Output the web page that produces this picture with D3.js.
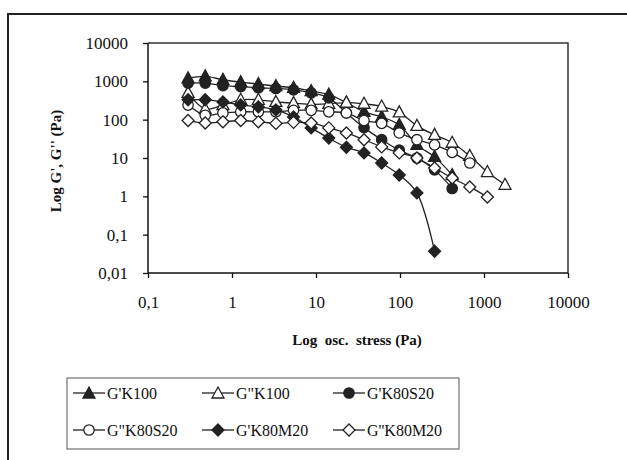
<!DOCTYPE html>
<html><head><meta charset="utf-8">
<script src="https://cdn.jsdelivr.net/npm/d3@7"></script>
<style>
html,body{margin:0;padding:0;background:#fff;}
svg{display:block;}
svg text{font-family:"Liberation Serif","Times New Roman",Times,serif !important;fill:#111;}
</style></head>
<body>
<svg id="chart" width="627" height="460"></svg>
<script>
// ---- data ----
const stress = [0.30, 0.48, 0.78, 1.27, 2.06, 3.33, 5.40, 8.76, 14.2, 23.0, 37.3, 60.5, 98.0, 159, 258, 418, 677, 1097, 1778];
const gpK100     = [1200, 1350, 1100, 950, 850, 750, 680, 560, 450, 280, 160, 118, 73, 22, 10.7, 3.6];
const gppK100    = [500, 190, 240, 330, 330, 290, 270, 250, 260, 280, 260, 220, 155, 69, 40, 25, 11.3, 4.3, 2.0];
const gpK80S20   = [900, 900, 770, 730, 680, 650, 600, 500, 370, 150, 62, 30, 16, 10, 4.9, 1.6];
const gppK80S20  = [240, 130, 150, 160, 160, 160, 175, 175, 160, 150, 95, 80, 45, 30, 22, 14, 7.4];
const gpK80M20   = [330, 330, 290, 243, 215, 180, 118, 61, 33, 19, 13.6, 7.4, 3.6, 1.23, 0.037];
const gppK80M20  = [95, 82, 88, 95, 88, 80, 85, 82, 61, 45, 30, 19.5, 13.6, 10, 5.5, 3.0, 1.76, 0.96];
const seriesNames = ["G'K100", 'G"K100', "G'K80S20", 'G"K80S20', "G'K80M20", "G''K80M20"];
const seriesValues = [gpK100, gppK100, gpK80S20, gppK80S20, gpK80M20, gppK80M20];
const seriesShapes = ["triangle", "triangle", "circle", "circle", "diamond", "diamond"];
const seriesFilled = [true, false, true, false, true, false];
const yTicks = [0.01, 0.1, 1, 10, 100, 1000, 10000];
const yTickLabels = ["0,01", "0,1", "1", "10", "100", "1000", "10000"];
const xTicks = [0.1, 1, 10, 100, 1000, 10000];
const xTickLabels = ["0,1", "1", "10", "100", "1000", "10000"];
const xTitle = "Log  osc.  stress (Pa)";
const yTitle = "Log G', G'' (Pa)";

// ---- layout ----
const FONT = '"Liberation Serif", "Times New Roman", Times, serif';
const svg = d3.select("#chart").attr("font-family", FONT);
const L = 148, R = 568, T = 43, B = 273;
const x = d3.scaleLog().domain([0.1, 10000]).range([L, R]);
const y = d3.scaleLog().domain([0.01, 10000]).range([B, T]);

// outer frame
svg.append("rect").attr("x", 8).attr("y", 14).attr("width", 660).attr("height", 500)
  .attr("fill", "none").attr("stroke", "#222").attr("stroke-width", 2);

// plot frame top/right
svg.append("path").attr("d", `M${L},${T}H${R}V${B}`).attr("fill", "none")
  .attr("stroke", "#333").attr("stroke-width", 1.5);

// axes
const yAxis = svg.append("g").attr("transform", `translate(${L},0)`)
  .call(d3.axisLeft(y).tickValues(yTicks).tickFormat((d, i) => yTickLabels[i]).tickSize(5).tickPadding(15));
const xAxis = svg.append("g").attr("transform", `translate(0,${B})`)
  .call(d3.axisBottom(x).tickValues(xTicks).tickFormat((d, i) => xTickLabels[i]).tickSize(5).tickPadding(18));
[yAxis, xAxis].forEach(g => {
  g.attr("font-family", FONT);
  g.select(".domain").attr("stroke", "#111").attr("stroke-width", 1.5);
  g.selectAll(".tick line").attr("stroke", "#111").attr("stroke-width", 1.3);
  g.selectAll(".tick text").style("font-family", FONT).attr("font-size", 17).attr("fill", "#111");
});
yAxis.select(".domain").attr("d", `M0,${T}V${B}`);
xAxis.select(".domain").attr("d", `M${L},0H${R}`);

// titles
svg.append("text").attr("x", 357).attr("y", 345).attr("text-anchor", "middle").style("font-family", FONT)
  .attr("font-weight", "bold").attr("font-size", 15).style("white-space", "pre").text(xTitle);
svg.append("text").attr("transform", "translate(61,161) rotate(-90)").attr("text-anchor", "middle").style("font-family", FONT)
  .attr("font-weight", "bold").attr("font-size", 15).text(yTitle);

// markers
function marker(g, shape, filled, cx, cy) {
  const fill = filled ? "#222" : "#fff";
  let el;
  if (shape === "circle") {
    el = g.append("circle").attr("cx", cx).attr("cy", cy).attr("r", 5.2);
  } else if (shape === "triangle") {
    el = g.append("path").attr("d", `M${cx},${cy - 6.5}L${cx + 6},${cy + 4.5}L${cx - 6},${cy + 4.5}Z`);
  } else {
    el = g.append("path").attr("d", `M${cx},${cy - 6}L${cx + 6},${cy}L${cx},${cy + 6}L${cx - 6},${cy}Z`);
  }
  el.attr("fill", fill).attr("stroke", "#222").attr("stroke-width", 1.3);
}

const line = d3.line().x(d => x(d[0])).y(d => y(d[1])).curve(d3.curveCatmullRom.alpha(0.5));
seriesValues.forEach((vals, s) => {
  const pts = vals.map((v, i) => [stress[i], v]);
  const g = svg.append("g");
  g.append("path").attr("d", line(pts)).attr("fill", "none").attr("stroke", "#222").attr("stroke-width", 1.3);
  pts.forEach(p => marker(g, seriesShapes[s], seriesFilled[s], x(p[0]), y(p[1])));
});

// legend
const lg = svg.append("g");
lg.append("rect").attr("x", 67).attr("y", 378).attr("width", 392).attr("height", 71)
  .attr("fill", "#fff").attr("stroke", "#555").attr("stroke-width", 1);
const colX = [73, 202, 333];
const rowY = [393, 430];
seriesNames.forEach((name, s) => {
  const cx = colX[s % 3], cy = rowY[Math.floor(s / 3)];
  lg.append("line").attr("x1", cx).attr("x2", cx + 32).attr("y1", cy).attr("y2", cy)
    .attr("stroke", "#222").attr("stroke-width", 1.3);
  marker(lg, seriesShapes[s], seriesFilled[s], cx + 16, cy + (seriesShapes[s] === "triangle" ? 0.5 : 0));
  lg.append("text").attr("x", cx + 34).attr("y", cy + 5.5).style("font-family", FONT)
    .attr("font-size", 16).text(name);
});
</script>
</body></html>
